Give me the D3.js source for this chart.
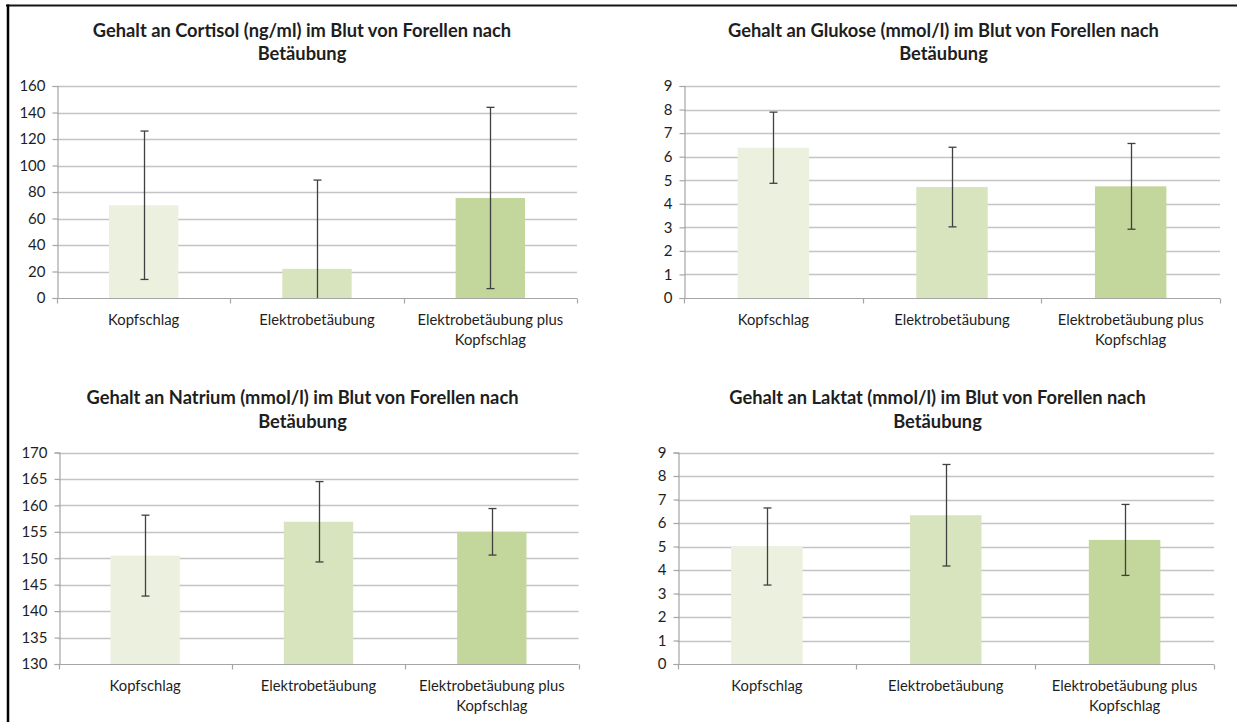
<!DOCTYPE html>
<html>
<head>
<meta charset="utf-8">
<script src="https://cdn.jsdelivr.net/npm/d3@7"></script>
<style>
  html, body { margin: 0; padding: 0; background: #ffffff; }
  svg { display: block; }
  text { font-family: Lato, "Open Sans", sans-serif; fill: #1e1e1e; }
</style>
</head>
<body>
<svg id="chart" width="1237" height="722"></svg>
<script>
// Stunning methods compared: means and standard deviations of blood values in trout
const categories = ["Kopfschlag", "Elektrobetäubung", "Elektrobetäubung plus Kopfschlag"];

const cortisolMean = [70, 22, 75.5];
const cortisolSd   = [56, 67, 68.4];
const cortisolTicks = [0, 20, 40, 60, 80, 100, 120, 140, 160];

const glukoseMean = [6.38, 4.71, 4.74];
const glukoseSd   = [1.51, 1.69, 1.82];
const glukoseTicks = [0, 1, 2, 3, 4, 5, 6, 7, 8, 9];

const natriumMean = [150.5, 156.9, 155.0];
const natriumSd   = [7.65, 7.6, 4.4];
const natriumTicks = [130, 135, 140, 145, 150, 155, 160, 165, 170];

const laktatMean = [5.0, 6.33, 5.28];
const laktatSd   = [1.64, 2.16, 1.51];
const laktatTicks = [0, 1, 2, 3, 4, 5, 6, 7, 8, 9];

const titles = [
  ["Gehalt an Cortisol (ng/ml) im Blut von Forellen nach", "Betäubung"],
  ["Gehalt an Glukose (mmol/l) im Blut von Forellen nach", "Betäubung"],
  ["Gehalt an Natrium (mmol/l) im Blut von Forellen nach", "Betäubung"],
  ["Gehalt an Laktat (mmol/l) im Blut von Forellen nach", "Betäubung"]
];

const barColors = ["#ebf1de", "#d7e4bd", "#c3d69b"];

// Panel layout: plot rectangle and title anchor for each of the four charts
const panels = [
  { mean: cortisolMean, sd: cortisolSd, ticks: cortisolTicks, title: titles[0],
    left: 57, right: 577, top: 86, bottom: 298, titleX: 302, titleY: 36.5 },
  { mean: glukoseMean, sd: glukoseSd, ticks: glukoseTicks, title: titles[1],
    left: 684, right: 1220, top: 86, bottom: 298, titleX: 943.5, titleY: 36.5 },
  { mean: natriumMean, sd: natriumSd, ticks: natriumTicks, title: titles[2],
    left: 58.5, right: 578.5, top: 452.5, bottom: 664, titleX: 302.5, titleY: 404 },
  { mean: laktatMean, sd: laktatSd, ticks: laktatTicks, title: titles[3],
    left: 677.5, right: 1214, top: 452.5, bottom: 664, titleX: 937.5, titleY: 404 }
];

const svg = d3.select("#chart");

// Outer frame (top and left edges)
svg.append("line").attr("x1", 6).attr("x2", 1237).attr("y1", 5.5).attr("y2", 5.5)
  .attr("stroke", "#151515").attr("stroke-width", 2);
svg.append("line").attr("x1", 8).attr("x2", 8).attr("y1", 4.5).attr("y2", 722)
  .attr("stroke", "#000").attr("stroke-width", 2.5);

function wrapLabel(textSel, width) {
  textSel.each(function() {
    const t = d3.select(this);
    const words = t.text().split(/\s+/);
    t.text(null);
    let line = [];
    let tspan = t.append("tspan").attr("x", 0).attr("dy", 0);
    words.forEach(w => {
      line.push(w);
      tspan.text(line.join(" "));
      if (tspan.node().getComputedTextLength() > width && line.length > 1) {
        line.pop();
        tspan.text(line.join(" "));
        line = [w];
        tspan = t.append("tspan").attr("x", 0).attr("dy", "20px").text(w);
      }
    });
  });
}

panels.forEach(p => {
  const g = svg.append("g");
  const ticks = p.ticks;
  const y = d3.scaleLinear()
    .domain([ticks[0], ticks[ticks.length - 1]])
    .range([p.bottom, p.top]);
  const x = d3.scaleBand()
    .domain(categories)
    .range([p.left, p.right])
    .paddingInner(0.6)
    .paddingOuter(0.3);
  const band = d3.scaleBand().domain(categories).range([p.left, p.right]);

  // Title
  const title = g.append("text")
    .attr("text-anchor", "middle")
    .attr("font-weight", "bold")
    .attr("font-size", "18.3px");
  p.title.forEach((line, i) => {
    title.append("tspan").attr("x", p.titleX).attr("y", p.titleY + i * 23.5).text(line);
  });

  // Horizontal gridlines
  g.append("g").selectAll("line")
    .data(ticks.slice(1))
    .join("line")
    .attr("x1", p.left).attr("x2", p.right)
    .attr("y1", d => Math.round(y(d)) + 0.5).attr("y2", d => Math.round(y(d)) + 0.5)
    .attr("stroke", "#c4c4c4").attr("stroke-width", 1.3);

  // Y axis
  const yAxis = g.append("g")
    .attr("transform", `translate(${Math.round(p.left) + 0.5},0)`)
    .call(d3.axisLeft(y).tickValues(ticks).tickSize(5).tickPadding(7).tickFormat(d3.format("d")));
  yAxis.select(".domain").attr("stroke", "#a6a6a6").attr("stroke-width", 1.2);
  yAxis.selectAll(".tick line").attr("stroke", "#a6a6a6").attr("stroke-width", 1.2);
  yAxis.selectAll(".tick text")
    .attr("font-family", "Lato, sans-serif").attr("font-size", "15px").attr("fill", "#1e1e1e");

  // Bars
  g.append("g").selectAll("rect")
    .data(categories)
    .join("rect")
    .attr("x", d => x(d))
    .attr("width", x.bandwidth())
    .attr("y", (d, i) => y(p.mean[i]))
    .attr("height", (d, i) => p.bottom - y(p.mean[i]))
    .attr("fill", (d, i) => barColors[i]);

  // X axis with category boundaries as ticks
  const xAxis = g.append("g")
    .attr("transform", `translate(0,${Math.round(p.bottom) + 0.5})`)
    .call(d3.axisBottom(band).tickSize(0).tickPadding(26));
  xAxis.select(".domain").attr("stroke", "#a6a6a6").attr("stroke-width", 1.2)
    .attr("d", `M${p.left},0H${p.right}`);
  xAxis.selectAll(".tick text")
    .attr("font-family", "Lato, sans-serif").attr("font-size", "14.8px").attr("fill", "#1e1e1e")
    .attr("dy", "0.32em")
    .call(wrapLabel, band.bandwidth() * 0.95);
  const bounds = d3.range(categories.length + 1).map(i => p.left + i * band.step());
  xAxis.append("g").selectAll("line")
    .data(bounds)
    .join("line")
    .attr("x1", d => Math.round(d) + 0.5).attr("x2", d => Math.round(d) + 0.5)
    .attr("y1", 0).attr("y2", 5)
    .attr("stroke", "#a6a6a6").attr("stroke-width", 1.2);

  // Error bars (mean ± SD, clipped at the axis minimum)
  const yMin = ticks[0];
  const err = g.append("g").attr("stroke", "#404040").attr("stroke-width", 1.3);
  categories.forEach((c, i) => {
    const cx = Math.round(x(c) + x.bandwidth() / 2) + 0.5;
    const hi = p.mean[i] + p.sd[i];
    const loRaw = p.mean[i] - p.sd[i];
    const lo = Math.max(loRaw, yMin);
    err.append("line").attr("x1", cx).attr("x2", cx).attr("y1", y(hi)).attr("y2", y(lo));
    err.append("line").attr("x1", cx - 4).attr("x2", cx + 4).attr("y1", y(hi)).attr("y2", y(hi));
    if (loRaw >= yMin) {
      err.append("line").attr("x1", cx - 4).attr("x2", cx + 4).attr("y1", y(lo)).attr("y2", y(lo));
    }
  });
});
</script>
</body>
</html>
